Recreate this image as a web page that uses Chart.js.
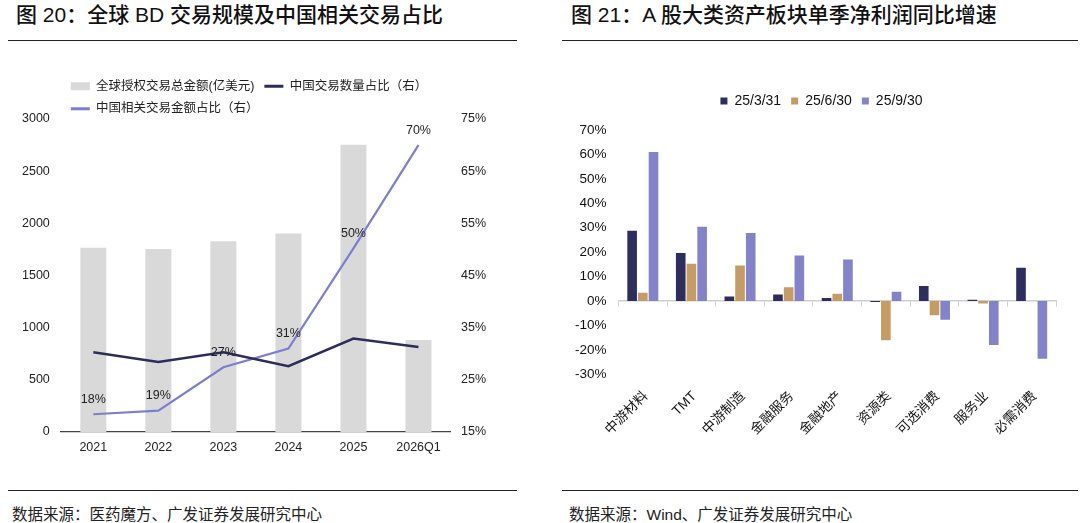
<!DOCTYPE html>
<html>
<head>
<meta charset="utf-8">
<script src="https://cdn.jsdelivr.net/npm/chart.js@4.4.1/dist/chart.umd.min.js"></script>
<style>
    body {
        margin: 0;
        width: 1080px;
        height: 523px;
        background: #fff;
        position: relative;
        overflow: hidden;
        font-family: "Liberation Sans", "Noto Sans CJK SC", sans-serif;
        color: #111;
    }
    .title {
        position: absolute;
        top: 2px;
        font-size: 21px;
        font-weight: 500;
        line-height: 25px;
        white-space: nowrap;
    }
    .rule {
        position: absolute;
        height: 0;
        border-top: 1.5px solid #222;
    }
    .src {
        position: absolute;
        top: 505px;
        font-size: 15.5px;
        line-height: 20px;
        color: #222;
        white-space: nowrap;
    }
    .box { position: absolute; }
</style>
</head>
<body>

<div class="title" style="left:16px">图 20：全球 BD 交易规模及中国相关交易占比</div>
<div class="title" style="left:571px">图 21：A 股大类资产板块单季净利润同比增速</div>
<div class="rule" style="left:8px;width:509px;top:40px"></div>
<div class="rule" style="left:562px;width:516px;top:40px"></div>

<div class="box" style="left:0;top:55px;width:520px;height:410px"><canvas id="bdChart"></canvas></div>
<div class="box" style="left:560px;top:50px;width:520px;height:440px"><canvas id="profitChart"></canvas></div>

<div class="rule" style="left:8px;width:509px;top:490px"></div>
<div class="rule" style="left:562px;width:516px;top:490px"></div>
<div class="src" style="left:12px">数据来源：医药魔方、广发证券发展研究中心</div>
<div class="src" style="left:569px">数据来源：Wind、广发证券发展研究中心</div>

<script>
// chart 20 data
const years = ["2021", "2022", "2023", "2024", "2025", "2026Q1"];
const globalDealValue = [1766, 1753, 1829, 1902, 2752, 881];      // 亿美元
const chinaDealCountShare = [30.3, 28.4, 30.3, 27.6, 32.9, 31.3];  // %
const chinaDealValueShare = [18.4, 19.1, 27.4, 31.0, 50.2, 70.0];  // %

// chart 21 data
const sectors = ["中游材料", "TMT", "中游制造", "金融服务", "金融地产", "资源类", "可选消费", "服务业", "必需消费"];
const q1Growth = [28.8, 19.7, 1.9, 2.7, 1.2, -0.4, 6.2, 0.5, 13.6];
const q2Growth = [3.4, 15.3, 14.5, 5.6, 3.0, -16.0, -5.8, -1.0, 0];
const q3Growth = [61.0, 30.4, 27.9, 18.6, 17.0, 3.8, -7.7, -18.0, -23.6];
const periodNames = ["25/3/31", "25/6/30", "25/9/30"];

const fontFamily = "'Liberation Sans', 'Noto Sans CJK SC', sans-serif";
Chart.defaults.font.family = fontFamily;
Chart.defaults.color = "#222";
Chart.defaults.animation = false;

// legend height tweak so the plot can sit closer to / further from the legend
function legendHeightPlugin(delta) {
    return {
        id: "legendHeight",
        beforeInit(chart) {
            const fit = chart.legend.fit;
            chart.legend.fit = function () {
                fit.bind(chart.legend)();
                this.height += delta;
            };
        }
    };
}

// nudge the legend sideways after layout
function legendShiftPlugin(dx) {
    return {
        id: "legendShift",
        afterLayout(chart) {
            chart.legend.left += dx;
            chart.legend.right += dx;
        }
    };
}

// percent labels above the value-share line
const shareLabels = {
    id: "shareLabels",
    afterDatasetsDraw(chart) {
        const meta = chart.getDatasetMeta(2);
        const ctx = chart.ctx;
        ctx.save();
        ctx.font = "12.5px " + fontFamily;
        ctx.fillStyle = "#222";
        ctx.textAlign = "center";
        ctx.textBaseline = "middle";
        meta.data.forEach((pt, i) => {
            ctx.fillText(Math.round(chinaDealValueShare[i]) + "%", pt.x, pt.y - 15);
        });
        ctx.restore();
    }
};

new Chart(document.getElementById("bdChart"), {
    type: "bar",
    data: {
        labels: years,
        datasets: [
            {
                label: "全球授权交易总金额(亿美元)",
                data: globalDealValue,
                backgroundColor: "#d9d9d9",
                yAxisID: "y",
                order: 2,
                pointStyle: "rect",
                barPercentage: 0.5,
                categoryPercentage: 0.8
            },
            {
                type: "line",
                label: "中国交易数量占比（右）",
                data: chinaDealCountShare,
                borderColor: "#2d2d5c",
                backgroundColor: "#2d2d5c",
                borderWidth: 2.5,
                pointRadius: 0,
                pointBorderWidth: 3,
                pointStyle: "line",
                yAxisID: "y1",
                order: 1,
                tension: 0
            },
            {
                type: "line",
                label: "中国相关交易金额占比（右）",
                data: chinaDealValueShare,
                borderColor: "#7e7ed0",
                backgroundColor: "#7e7ed0",
                borderWidth: 2.2,
                pointRadius: 0,
                pointBorderWidth: 3,
                pointStyle: "line",
                yAxisID: "y1",
                order: 1,
                tension: 0
            }
        ]
    },
    options: {
        responsive: true,
        maintainAspectRatio: false,
        layout: { padding: { left: 11, right: 24, top: 15, bottom: 2 } },
        plugins: {
            legend: {
                position: "top",
                align: "start",
                fullSize: false,
                labels: {
                    usePointStyle: true,
                    pointStyleWidth: 19,
                    boxHeight: 8,
                    padding: 10,
                    color: "#222",
                    font: { size: 12.5 },
                    sort: (a, b) => a.datasetIndex - b.datasetIndex
                }
            },
            tooltip: { enabled: false }
        },
        scales: {
            x: {
                grid: { display: false, drawTicks: false },
                border: { display: true, color: "#444", width: 1.2 },
                ticks: { padding: 8, font: { size: 12.5 }, color: "#222" }
            },
            y: {
                position: "left",
                min: 0,
                max: 3000,
                grid: { display: false, drawTicks: false },
                border: { display: false },
                ticks: { stepSize: 500, padding: 11, font: { size: 12.5 }, color: "#222", callback: v => String(v) }
            },
            y1: {
                position: "right",
                min: 15,
                max: 75,
                grid: { display: false, drawTicks: false },
                border: { display: false },
                ticks: {
                    stepSize: 10,
                    padding: 10,
                    font: { size: 12.5 },
                    color: "#222",
                    callback: v => v + "%"
                }
            }
        }
    },
    plugins: [legendHeightPlugin(-6), shareLabels]
});

new Chart(document.getElementById("profitChart"), {
    type: "bar",
    data: {
        labels: sectors,
        datasets: [
            { label: periodNames[0], data: q1Growth, backgroundColor: "#2e2e5e" },
            { label: periodNames[1], data: q2Growth, backgroundColor: "#c59c63" },
            { label: periodNames[2], data: q3Growth, backgroundColor: "#8383ca" }
        ]
    },
    options: {
        responsive: true,
        maintainAspectRatio: false,
        layout: { padding: { left: 3, right: 24, top: 34, bottom: 46 } },
        datasets: { bar: { barPercentage: 0.9, categoryPercentage: 0.66 } },
        plugins: {
            legend: {
                position: "top",
                align: "center",
                labels: {
                    boxWidth: 7,
                    boxHeight: 7,
                    padding: 10,
                    color: "#111",
                    font: { size: 14 }
                }
            },
            tooltip: { enabled: false }
        },
        scales: {
            x: {
                grid: { display: false },
                border: { display: false },
                ticks: {
                    minRotation: 45,
                    maxRotation: 45,
                    padding: 6,
                    labelOffset: 3,
                    font: { size: 13.5 },
                    color: "#111"
                }
            },
            // zero line with the small category ticks
            xZero: {
                type: "category",
                labels: sectors,
                offset: true,
                position: { y: 0 },
                grid: {
                    offset: true,
                    drawOnChartArea: false,
                    drawTicks: true,
                    tickLength: 5,
                    color: "#cfcfcf"
                },
                border: { display: true, color: "#cfcfcf", width: 1.5 },
                ticks: { display: false }
            },
            y: {
                min: -30,
                max: 70,
                grid: { display: false, drawTicks: false },
                border: { display: false },
                ticks: {
                    stepSize: 10,
                    padding: 12,
                    font: { size: 13.5 },
                    color: "#111",
                    callback: v => v + "%"
                }
            }
        }
    },
    plugins: [legendHeightPlugin(12), legendShiftPlugin(12)]
});
</script>
</body>
</html>
